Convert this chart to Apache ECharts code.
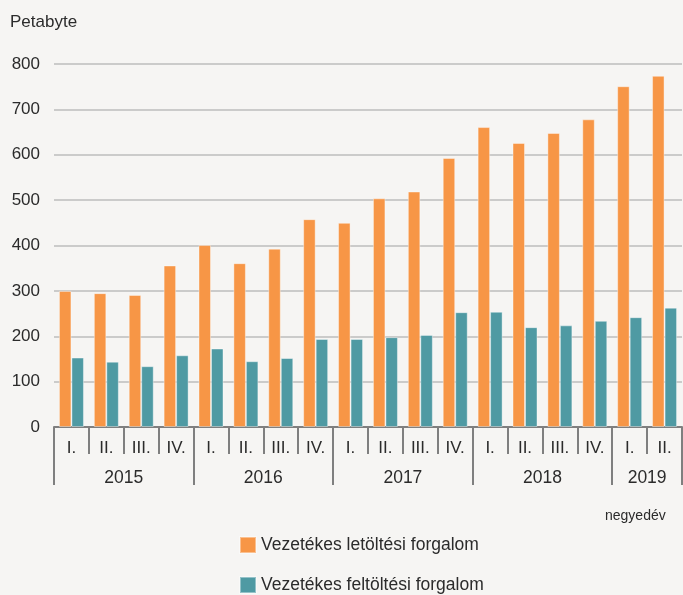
<!DOCTYPE html>
<html>
<head>
<meta charset="utf-8">
<script src="https://cdn.jsdelivr.net/npm/echarts@6/dist/echarts.min.js"></script>
<style>
  html, body { margin: 0; padding: 0; background: #f6f5f3; }
  #chart { width: 683px; height: 595px; }
</style>
</head>
<body>
<div id="chart"></div>
<script>
// negyedéves vezetékes adatforgalom (Petabyte)
const quarters = ['I.', 'II.', 'III.', 'IV.', 'I.', 'II.', 'III.', 'IV.', 'I.', 'II.', 'III.', 'IV.',
  'I.', 'II.', 'III.', 'IV.', 'I.', 'II.'];
const years = ['2015', '2016', '2017', '2018', '2019'];
const quartersPerYear = [4, 4, 4, 4, 2];
const download = [300, 295, 291, 356, 401, 361, 393, 458, 450, 504, 519, 593, 661, 626, 648, 678, 751, 774];
const upload = [153, 144, 134, 158, 173, 145, 152, 194, 194, 198, 203, 253, 254, 220, 224, 234, 242, 263];
const seriesNames = ['Vezetékes letöltési forgalom', 'Vezetékes feltöltési forgalom'];

const font = '"Liberation Sans", Arial, sans-serif';
const textColor = '#2b2b2b';

// year separators and year label positions on the 0..18 scale
let yearTicks = [0];
let yearCenters = [];
let acc = 0;
quartersPerYear.forEach(function (n) {
  yearCenters.push(acc + n / 2);
  acc += n;
  yearTicks.push(acc);
});

function legendAt(name, top) {
  return {
    left: 234,
    top: top,
    itemWidth: 16,
    itemHeight: 16,
    icon: 'rect',
    textStyle: { fontSize: 17.5, color: textColor, fontFamily: font },
    data: [name]
  };
}

const chart = echarts.init(document.getElementById('chart'));
const option = {
  backgroundColor: '#f6f5f3',
  animation: false,
  textStyle: { fontFamily: font },
  grid: { left: 54, right: 1, top: 64, bottom: 168 },
  graphic: [
    { type: 'text', left: 10, top: 14, style: { text: 'Petabyte', font: '17px ' + font, fill: textColor } },
    { type: 'text', left: 605, top: 509, style: { text: 'negyedév', font: '14px ' + font, fill: textColor } }
  ],
  legend: [legendAt(seriesNames[0], 531), legendAt(seriesNames[1], 571)],
  xAxis: [{
    type: 'category',
    data: quarters,
    boundaryGap: true,
    axisLine: { lineStyle: { color: '#7f7f7f', width: 2 } },
    axisTick: { show: true, interval: 0, length: 27, lineStyle: { color: '#7f7f7f', width: 2 } },
    axisLabel: { interval: 0, margin: 13, fontSize: 17, color: textColor, fontFamily: font },
    splitLine: { show: false }
  }, {
    type: 'value',
    position: 'bottom',
    min: 0,
    max: quarters.length,
    axisLine: { show: false },
    axisTick: { show: true, length: 58, customValues: yearTicks, lineStyle: { color: '#7f7f7f', width: 2 } },
    axisLabel: {
      margin: 42,
      fontSize: 17.5,
      color: textColor,
      fontFamily: font,
      customValues: yearCenters,
      formatter: function (v) {
        const i = yearCenters.indexOf(v);
        return i >= 0 ? years[i] : '';
      }
    },
    splitLine: { show: false }
  }],
  yAxis: {
    type: 'value',
    min: 0,
    max: 800,
    interval: 100,
    axisLine: { show: false },
    axisTick: { show: false },
    axisLabel: { margin: 14, fontSize: 17, color: textColor, fontFamily: font },
    splitLine: { lineStyle: { color: '#bdbdbd', width: 1.5 } }
  },
  series: [{
    name: seriesNames[0],
    type: 'bar',
    xAxisIndex: 0,
    data: download,
    barWidth: 12.5,
    barGap: '0%',
    itemStyle: { color: '#f79646', borderColor: 'rgba(255,255,255,0.4)', borderWidth: 1 }
  }, {
    name: seriesNames[1],
    type: 'bar',
    xAxisIndex: 0,
    data: upload,
    barWidth: 12.5,
    barGap: '0%',
    itemStyle: { color: '#4f9aa3', borderColor: 'rgba(255,255,255,0.4)', borderWidth: 1 }
  }]
};
chart.setOption(option);
</script>
</body>
</html>
